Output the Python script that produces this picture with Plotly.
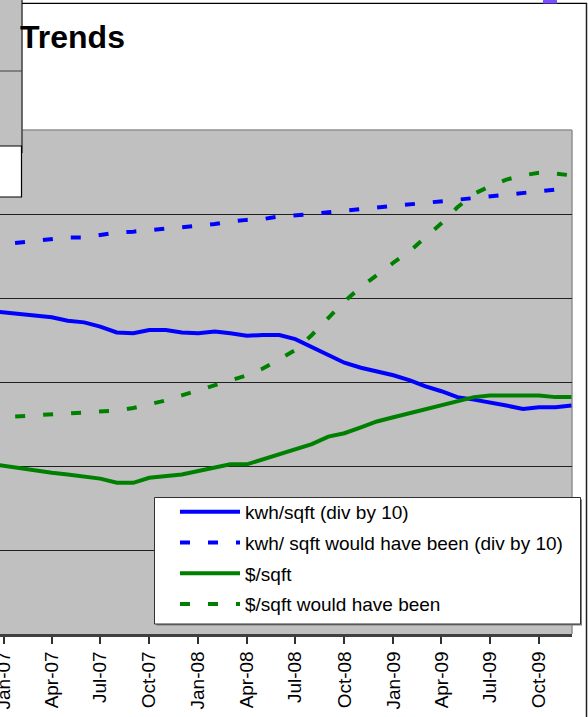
import plotly.graph_objects as go

# ---- data (monthly, Dec-06 .. Dec-09) ----
months = ["2006-12-01"] + [f"{y}-{m:02d}-01" for y in (2007, 2008, 2009) for m in range(1, 13)]

kwh_sqft = [3.85, 3.83, 3.80, 3.78, 3.77, 3.73, 3.71, 3.66, 3.59, 3.58, 3.62, 3.62, 3.59,
            3.58, 3.60, 3.58, 3.55, 3.56, 3.56, 3.51, 3.42, 3.33, 3.23, 3.17, 3.13,
            3.08, 3.02, 2.95, 2.89, 2.82, 2.79, 2.76, 2.72, 2.68, 2.70, 2.70, 2.72]

kwh_would = [4.62, 4.64, 4.66, 4.68, 4.70, 4.72, 4.72, 4.75, 4.78, 4.79, 4.81, 4.83, 4.84,
             4.86, 4.88, 4.91, 4.93, 4.94, 4.97, 4.98, 5.00, 5.02, 5.04, 5.06, 5.08,
             5.10, 5.12, 5.13, 5.15, 5.17, 5.19, 5.21, 5.22, 5.24, 5.26, 5.29, 5.31]

usd_sqft = [2.03, 2.00, 1.97, 1.95, 1.92, 1.90, 1.88, 1.85, 1.80, 1.80, 1.86, 1.88, 1.90,
            1.94, 1.98, 2.02, 2.02, 2.08, 2.14, 2.20, 2.26, 2.35, 2.39, 2.46, 2.53,
            2.58, 2.63, 2.67, 2.72, 2.77, 2.82, 2.84, 2.84, 2.84, 2.84, 2.82, 2.82]

usd_would = [2.57, 2.58, 2.59, 2.60, 2.61, 2.63, 2.63, 2.64, 2.66, 2.69, 2.73, 2.78, 2.84,
             2.90, 2.96, 3.02, 3.08, 3.16, 3.27, 3.38, 3.56, 3.76, 3.96, 4.13, 4.28,
             4.42, 4.56, 4.72, 4.89, 5.08, 5.24, 5.33, 5.41, 5.46, 5.49, 5.48, 5.46]

tick_dates = ["2007-01-01", "2007-04-01", "2007-07-01", "2007-10-01",
              "2008-01-01", "2008-04-01", "2008-07-01", "2008-10-01",
              "2009-01-01", "2009-04-01", "2009-07-01", "2009-10-01"]
tick_labels = ["Jan-07", "Apr-07", "Jul-07", "Oct-07", "Jan-08", "Apr-08",
               "Jul-08", "Oct-08", "Jan-09", "Apr-09", "Jul-09", "Oct-09"]

series_names = ["kwh/sqft (div by 10)", "kwh/ sqft would have been (div by 10)",
                "$/sqft", "$/sqft would have been"]

BLUE = "#0000FF"
GREEN = "#008000"
DASH = "10px,18px"
FONT = "Liberation Sans, Arial, sans-serif"

fig = go.Figure()
for i, (vals, col, dash) in enumerate([(kwh_sqft, BLUE, "solid"), (kwh_would, BLUE, DASH),
                                        (usd_sqft, GREEN, "solid"), (usd_would, GREEN, DASH)]):
    fig.add_trace(go.Scatter(x=months, y=vals, mode="lines", name=series_names[i],
                             legendgroup=f"g{i}",
                             line=dict(color=col, width=4, dash=dash)))

W, H = 588, 717
PL, PR, PT, PB = 0, 572, 130, 634  # plot area in px
pw, ph = PR - PL, PB - PT

def px(x):
    return (x - PL) / pw

def py(y):
    return (PB - y) / ph

shapes = [
    # left gray panel
    dict(type="rect", xref="paper", yref="paper", x0=px(-2), x1=px(22), y0=py(153), y1=py(-2),
         fillcolor="#C0C0C0", line=dict(width=0), layer="above"),
    dict(type="line", xref="paper", yref="paper", x0=px(22), x1=px(22), y0=py(153), y1=py(-2),
         line=dict(color="#404040", width=1.5), layer="above"),
    dict(type="line", xref="paper", yref="paper", x0=px(-2), x1=px(22), y0=py(71), y1=py(71),
         line=dict(color="#404040", width=1), layer="above"),
    # white box
    dict(type="rect", xref="paper", yref="paper", x0=px(-2), x1=px(21.5), y0=py(197), y1=py(146),
         fillcolor="white", line=dict(color="black", width=1.2), layer="above"),
    # outer chart border
    dict(type="line", xref="paper", yref="paper", x0=px(22), x1=px(587), y0=py(3.3), y1=py(3.3),
         line=dict(color="black", width=1.2), layer="above"),
    dict(type="line", xref="paper", yref="paper", x0=px(586.5), x1=px(586.5), y0=py(720), y1=py(3),
         line=dict(color="#202020", width=1.5), layer="above"),
    # plot border (top/right)
    dict(type="line", xref="paper", yref="paper", x0=0, x1=1, y0=1, y1=1,
         line=dict(color="#909090", width=1.5), layer="below"),
    dict(type="line", xref="paper", yref="paper", x0=1, x1=1, y0=0, y1=1,
         line=dict(color="#909090", width=1.5), layer="below"),
    # legend box with slight shadow
    dict(type="rect", xref="paper", yref="paper", x0=px(156.5), x1=px(582), y0=py(625.5), y1=py(499.5),
         fillcolor="#808080", line=dict(width=0), layer="above"),
    dict(type="rect", xref="paper", yref="paper", x0=px(154.5), x1=px(580.5), y0=py(624), y1=py(497.5),
         fillcolor="white", line=dict(color="#303030", width=1), layer="above"),
    # purple selection handle
    dict(type="rect", xref="paper", yref="paper", x0=px(543), x1=px(557), y0=py(3.5), y1=py(-4),
         fillcolor="#7B4DFF", line=dict(width=0), layer="above"),
]

fig.update_layout(
    width=W, height=H,
    margin=dict(l=PL, r=W - PR, t=PT, b=H - PB, pad=0, autoexpand=False),
    paper_bgcolor="white",
    plot_bgcolor="#C0C0C0",
    font=dict(family=FONT, color="black"),
    title=dict(text="<b>Trends</b>", x=20 / W, xanchor="left", y=1 - 37 / H, yanchor="middle",
               font=dict(family=FONT, size=32, color="black"), automargin=False),
    showlegend=True,
    legend=dict(x=px(175), y=py(493), xanchor="left", yanchor="top",
                bgcolor="rgba(0,0,0,0)", borderwidth=0,
                font=dict(family=FONT, size=19, color="black"),
                traceorder="grouped", tracegroupgap=3, itemwidth=60),
    shapes=shapes,
)

fig.update_xaxes(
    type="date",
    range=["2006-12-25", "2009-12-02"],
    tickmode="array", tickvals=tick_dates, ticktext=tick_labels,
    tickangle=-90, tickfont=dict(family=FONT, size=19, color="black"),
    ticklabeloverflow="allow", automargin=False,
    ticks="outside", ticklen=7, tickcolor="#303030", tickwidth=1.5,
    showline=True, linecolor="#404040", linewidth=2.5,
    showgrid=False, zeroline=False,
)
fig.update_yaxes(
    range=[0, 6], dtick=1, tick0=0, automargin=False,
    showticklabels=False, ticks="",
    showgrid=True, gridcolor="#202020", gridwidth=1,
    showline=False, zeroline=False,
)

fig.write_html("out.html", config={"displayModeBar": False},
               post_script="document.body.style.margin='0px';")
